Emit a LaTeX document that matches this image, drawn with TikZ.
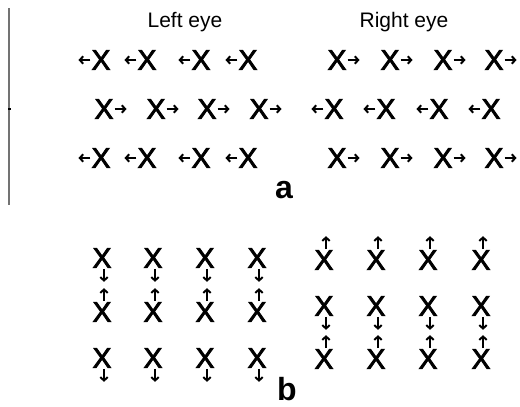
\documentclass[tikz,border=0pt]{standalone}
\usepackage{fontspec}
\setmainfont{Liberation Sans}
\newfontfamily\xfont[FakeBold=3]{Liberation Sans}
\usetikzlibrary{arrows.meta}
\begin{document}
\begin{tikzpicture}[x=1pt,y=-1pt,
  xs/.style={inner sep=0pt, font=\xfont\fontsize{28}{28}\selectfont},
  arr/.style={line width=2pt, -{Straight Barb[length=3.4pt,width=7.5pt]}},
  lbl/.style={font=\fontsize{21}{21}\selectfont, anchor=base},
  pl/.style={font=\bfseries\fontsize{32}{32}\selectfont, anchor=base}]
\useasboundingbox (0,0) rectangle (520,407);
% side rule
\draw[line width=1.4pt, black!55] (9,8) -- (9,205);
\fill (8.3,107.8) rectangle (11,110.4);
% titles
\node[lbl] (lefteye) at (185,27) {Left eye};
\node[lbl] (righteye) at (404,27) {Right eye};
% panel a
\foreach \r/\y in {1/60,3/158}{
  \foreach \x [count=\i] in {101,147,201,248}{
    \node[xs] (a\r l\i) at (\x,\y) {X};
    \draw[arr] ([xshift=-1pt]a\r l\i.west) -- ++(-12,0);
  }
  \foreach \x [count=\i] in {337,390,443,494}{
    \node[xs] (a\r r\i) at (\x,\y) {X};
    \draw[arr] ([xshift=1pt]a\r r\i.east) -- ++(12,0);
  }
}
\foreach \x [count=\i] in {104,156,207,259}{
  \node[xs] (a2l\i) at (\x,109) {X};
  \draw[arr] ([xshift=1pt]a2l\i.east) -- ++(12,0);
}
\foreach \x [count=\i] in {334,386,439,491}{
  \node[xs] (a2r\i) at (\x,109) {X};
  \draw[arr] ([xshift=-1pt]a2r\i.west) -- ++(-12,0);
}
\node[pl] (la) at (284,198) {a};
% panel b
\foreach \x [count=\i] in {102,153,205,257}{
  \node[xs] (b1l\i) at (\x,258) {X};
  \draw[arr] ([xshift=2pt,yshift=-1pt]b1l\i.south) -- ++(0,13);
  \node[xs] (b2l\i) at (\x,312) {X};
  \draw[arr] ([xshift=2pt,yshift=1pt]b2l\i.north) -- ++(0,-13);
  \node[xs] (b3l\i) at (\x,358) {X};
  \draw[arr] ([xshift=2pt,yshift=-1pt]b3l\i.south) -- ++(0,13);
}
\foreach \x [count=\i] in {324,376,428,481}{
  \node[xs] (b1r\i) at (\x,260) {X};
  \draw[arr] ([xshift=2pt,yshift=1pt]b1r\i.north) -- ++(0,-13);
  \node[xs] (b2r\i) at (\x,306) {X};
  \draw[arr] ([xshift=2pt,yshift=-1pt]b2r\i.south) -- ++(0,13);
  \node[xs] (b3r\i) at (\x,359) {X};
  \draw[arr] ([xshift=2pt,yshift=1pt]b3r\i.north) -- ++(0,-13);
}
\node[pl] (lb) at (287,400) {b};
\end{tikzpicture}
\end{document}
